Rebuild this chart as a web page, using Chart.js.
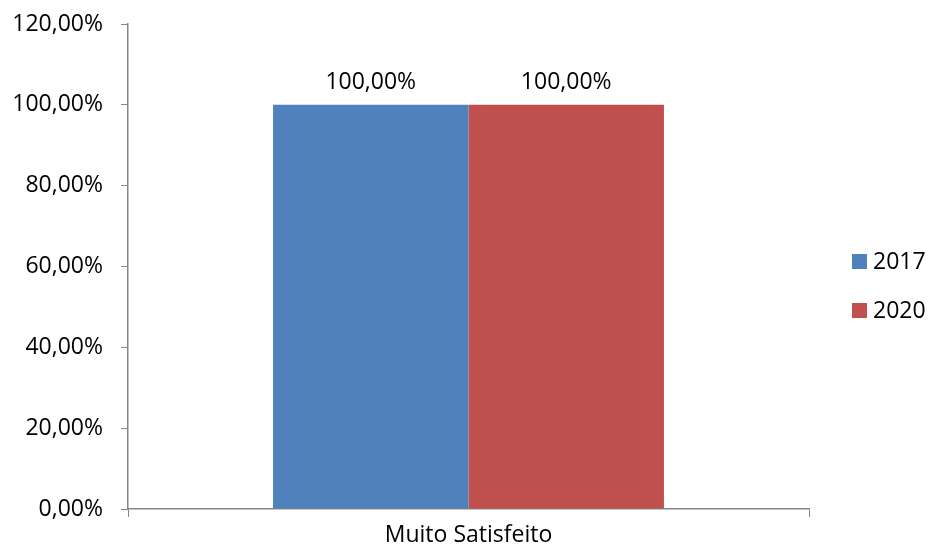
<!DOCTYPE html>
<html>
<head>
<meta charset="utf-8">
<script src="https://cdn.jsdelivr.net/npm/chart.js@4/dist/chart.umd.min.js"></script>
<style>
  html, body { margin: 0; padding: 0; background: #fff; }
  #wrap { width: 928px; height: 554px; }
</style>
</head>
<body>
<div id="wrap"><canvas id="chart"></canvas></div>
<script>
// Data
const categories = ['Muito Satisfeito'];
const seriesNames = ['2017', '2020'];
const values2017 = [1.0];
const values2020 = [1.0];
const yTicks = [0, 0.2, 0.4, 0.6, 0.8, 1.0, 1.2];

const FONT = '"Open Sans", sans-serif';
const axisGray = '#868686';

function pct(v) {
    return (v * 100).toFixed(2).replace('.', ',') + '%';
}

// Value labels above bars
const barLabels = {
    id: 'barLabels',
    afterDatasetsDraw(chart) {
        const ctx = chart.ctx;
        ctx.save();
        ctx.font = '23px ' + FONT;
        ctx.fillStyle = '#000';
        ctx.textAlign = 'center';
        ctx.textBaseline = 'middle';
        chart.data.datasets.forEach((ds, i) => {
            chart.getDatasetMeta(i).data.forEach((bar, j) => {
                ctx.fillText(pct(ds.data[j]), bar.x, bar.y - 22);
            });
        });
        ctx.restore();
    }
};

// Legend on the right, drawn by hand
const sideLegend = {
    id: 'sideLegend',
    afterDraw(chart) {
        const ctx = chart.ctx;
        ctx.save();
        ctx.font = '23px ' + FONT;
        ctx.textBaseline = 'middle';
        ctx.textAlign = 'left';
        const x = 852, y0 = 261, gap = 49;
        chart.data.datasets.forEach((ds, i) => {
            const y = y0 + i * gap;
            ctx.fillStyle = ds.backgroundColor;
            ctx.fillRect(x, y - 7, 15, 15);
            ctx.fillStyle = '#000';
            ctx.fillText(ds.label, x + 21, y + 1);
        });
        ctx.restore();
    }
};

const ctx = document.getElementById('chart').getContext('2d');
const chart = new Chart(ctx, {
    type: 'bar',
    data: {
        labels: categories,
        datasets: [
            { label: seriesNames[0], data: values2017, backgroundColor: '#4F81BD' },
            { label: seriesNames[1], data: values2020, backgroundColor: '#C0504D' }
        ]
    },
    options: {
        responsive: true,
        maintainAspectRatio: false,
        animation: false,
        layout: { padding: { top: 24, right: 119, left: 0, bottom: 0 } },
        datasets: { bar: { categoryPercentage: 0.574, barPercentage: 1.0 } },
        plugins: { legend: { display: false }, tooltip: { enabled: false } },
        scales: {
            x: {
                offset: true,
                afterFit(axis) { axis.height = 45; },
                grid: { offset: true, drawOnChartArea: false, drawTicks: true, tickLength: 8, color: axisGray },
                border: { color: axisGray, width: 1.5 },
                ticks: { color: '#000', font: { family: FONT, size: 23 }, padding: 5 }
            },
            y: {
                min: 0,
                max: 1.2,
                afterBuildTicks(axis) { axis.ticks = yTicks.map(v => ({ value: v })); },
                afterFit(axis) {
                    axis.width = 128;
                    axis.paddingTop = 0;
                    axis.paddingBottom = 0;
                },
                grid: { drawOnChartArea: false, drawTicks: true, tickLength: 7, color: axisGray },
                border: { color: axisGray, width: 1.5 },
                ticks: { color: '#000', font: { family: FONT, size: 23 }, padding: 18, callback: v => pct(v) }
            }
        }
    },
    plugins: [barLabels, sideLegend]
});
</script>
</body>
</html>
